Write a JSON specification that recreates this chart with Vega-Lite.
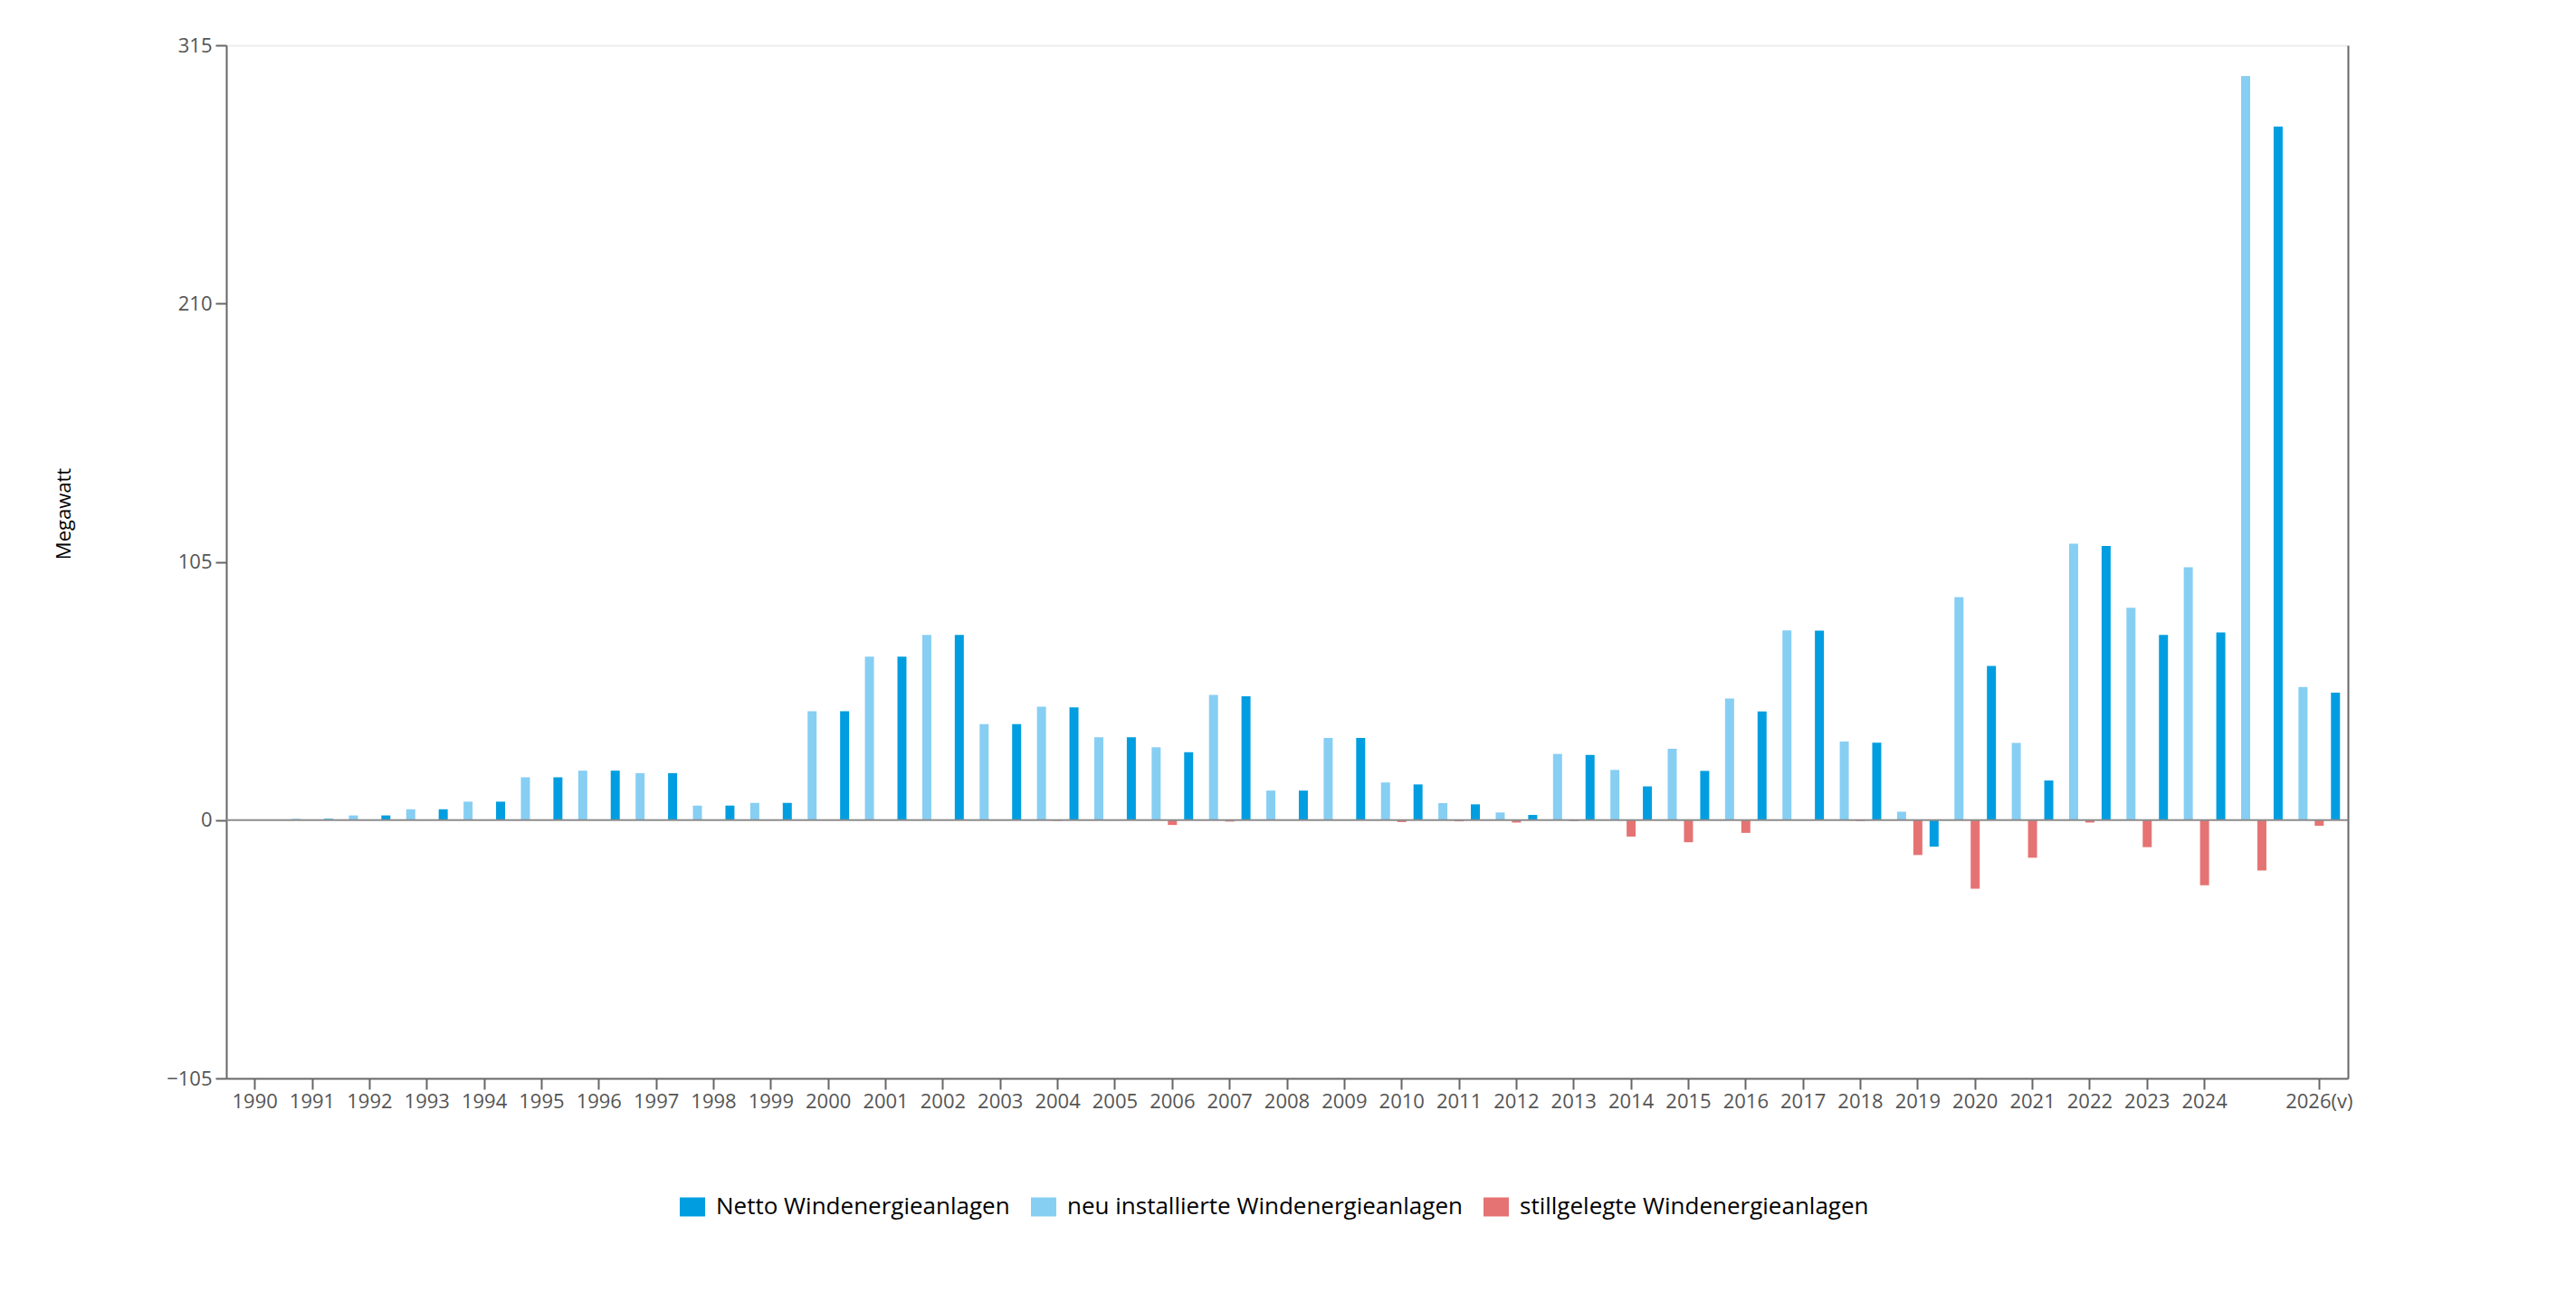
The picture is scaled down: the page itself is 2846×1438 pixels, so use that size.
{
  "$schema": "https://vega.github.io/schema/vega-lite/v6.json",
  "autosize": {"type": "none"},
  "padding": {"left": 250, "top": 50, "right": 252, "bottom": 247},
  "width": 2344,
  "height": 1141,
  "background": "white",
  "config": {
    "view": {"stroke": null},
    "font": "Open Sans"
  },
  "resolve": {"scale": {"y": "independent"}},
  "layer": [
    {
      "data": {"values": [
        {"Jahr": "1990", "Reihe": "neu installierte Windenergieanlagen", "Megawatt": 0.2},
        {"Jahr": "1990", "Reihe": "stillgelegte Windenergieanlagen", "Megawatt": 0},
        {"Jahr": "1990", "Reihe": "Netto Windenergieanlagen", "Megawatt": 0.2},
        {"Jahr": "1991", "Reihe": "neu installierte Windenergieanlagen", "Megawatt": 0.5},
        {"Jahr": "1991", "Reihe": "stillgelegte Windenergieanlagen", "Megawatt": 0},
        {"Jahr": "1991", "Reihe": "Netto Windenergieanlagen", "Megawatt": 0.5},
        {"Jahr": "1992", "Reihe": "neu installierte Windenergieanlagen", "Megawatt": 1.9},
        {"Jahr": "1992", "Reihe": "stillgelegte Windenergieanlagen", "Megawatt": 0},
        {"Jahr": "1992", "Reihe": "Netto Windenergieanlagen", "Megawatt": 1.9},
        {"Jahr": "1993", "Reihe": "neu installierte Windenergieanlagen", "Megawatt": 4.4},
        {"Jahr": "1993", "Reihe": "stillgelegte Windenergieanlagen", "Megawatt": 0},
        {"Jahr": "1993", "Reihe": "Netto Windenergieanlagen", "Megawatt": 4.4},
        {"Jahr": "1994", "Reihe": "neu installierte Windenergieanlagen", "Megawatt": 7.5},
        {"Jahr": "1994", "Reihe": "stillgelegte Windenergieanlagen", "Megawatt": 0},
        {"Jahr": "1994", "Reihe": "Netto Windenergieanlagen", "Megawatt": 7.5},
        {"Jahr": "1995", "Reihe": "neu installierte Windenergieanlagen", "Megawatt": 17.4},
        {"Jahr": "1995", "Reihe": "stillgelegte Windenergieanlagen", "Megawatt": 0},
        {"Jahr": "1995", "Reihe": "Netto Windenergieanlagen", "Megawatt": 17.4},
        {"Jahr": "1996", "Reihe": "neu installierte Windenergieanlagen", "Megawatt": 20.1},
        {"Jahr": "1996", "Reihe": "stillgelegte Windenergieanlagen", "Megawatt": 0},
        {"Jahr": "1996", "Reihe": "Netto Windenergieanlagen", "Megawatt": 20.1},
        {"Jahr": "1997", "Reihe": "neu installierte Windenergieanlagen", "Megawatt": 19.1},
        {"Jahr": "1997", "Reihe": "stillgelegte Windenergieanlagen", "Megawatt": 0},
        {"Jahr": "1997", "Reihe": "Netto Windenergieanlagen", "Megawatt": 19.1},
        {"Jahr": "1998", "Reihe": "neu installierte Windenergieanlagen", "Megawatt": 5.9},
        {"Jahr": "1998", "Reihe": "stillgelegte Windenergieanlagen", "Megawatt": 0},
        {"Jahr": "1998", "Reihe": "Netto Windenergieanlagen", "Megawatt": 5.9},
        {"Jahr": "1999", "Reihe": "neu installierte Windenergieanlagen", "Megawatt": 7.0},
        {"Jahr": "1999", "Reihe": "stillgelegte Windenergieanlagen", "Megawatt": 0},
        {"Jahr": "1999", "Reihe": "Netto Windenergieanlagen", "Megawatt": 7.0},
        {"Jahr": "2000", "Reihe": "neu installierte Windenergieanlagen", "Megawatt": 44.3},
        {"Jahr": "2000", "Reihe": "stillgelegte Windenergieanlagen", "Megawatt": 0},
        {"Jahr": "2000", "Reihe": "Netto Windenergieanlagen", "Megawatt": 44.3},
        {"Jahr": "2001", "Reihe": "neu installierte Windenergieanlagen", "Megawatt": 66.4},
        {"Jahr": "2001", "Reihe": "stillgelegte Windenergieanlagen", "Megawatt": 0},
        {"Jahr": "2001", "Reihe": "Netto Windenergieanlagen", "Megawatt": 66.4},
        {"Jahr": "2002", "Reihe": "neu installierte Windenergieanlagen", "Megawatt": 75.3},
        {"Jahr": "2002", "Reihe": "stillgelegte Windenergieanlagen", "Megawatt": 0},
        {"Jahr": "2002", "Reihe": "Netto Windenergieanlagen", "Megawatt": 75.3},
        {"Jahr": "2003", "Reihe": "neu installierte Windenergieanlagen", "Megawatt": 39.0},
        {"Jahr": "2003", "Reihe": "stillgelegte Windenergieanlagen", "Megawatt": 0},
        {"Jahr": "2003", "Reihe": "Netto Windenergieanlagen", "Megawatt": 39.0},
        {"Jahr": "2004", "Reihe": "neu installierte Windenergieanlagen", "Megawatt": 46.1},
        {"Jahr": "2004", "Reihe": "stillgelegte Windenergieanlagen", "Megawatt": -0.3},
        {"Jahr": "2004", "Reihe": "Netto Windenergieanlagen", "Megawatt": 45.8},
        {"Jahr": "2005", "Reihe": "neu installierte Windenergieanlagen", "Megawatt": 33.7},
        {"Jahr": "2005", "Reihe": "stillgelegte Windenergieanlagen", "Megawatt": 0},
        {"Jahr": "2005", "Reihe": "Netto Windenergieanlagen", "Megawatt": 33.7},
        {"Jahr": "2006", "Reihe": "neu installierte Windenergieanlagen", "Megawatt": 29.6},
        {"Jahr": "2006", "Reihe": "stillgelegte Windenergieanlagen", "Megawatt": -2.0},
        {"Jahr": "2006", "Reihe": "Netto Windenergieanlagen", "Megawatt": 27.6},
        {"Jahr": "2007", "Reihe": "neu installierte Windenergieanlagen", "Megawatt": 50.9},
        {"Jahr": "2007", "Reihe": "stillgelegte Windenergieanlagen", "Megawatt": -0.6},
        {"Jahr": "2007", "Reihe": "Netto Windenergieanlagen", "Megawatt": 50.3},
        {"Jahr": "2008", "Reihe": "neu installierte Windenergieanlagen", "Megawatt": 12.0},
        {"Jahr": "2008", "Reihe": "stillgelegte Windenergieanlagen", "Megawatt": 0},
        {"Jahr": "2008", "Reihe": "Netto Windenergieanlagen", "Megawatt": 12.0},
        {"Jahr": "2009", "Reihe": "neu installierte Windenergieanlagen", "Megawatt": 33.4},
        {"Jahr": "2009", "Reihe": "stillgelegte Windenergieanlagen", "Megawatt": 0},
        {"Jahr": "2009", "Reihe": "Netto Windenergieanlagen", "Megawatt": 33.4},
        {"Jahr": "2010", "Reihe": "neu installierte Windenergieanlagen", "Megawatt": 15.3},
        {"Jahr": "2010", "Reihe": "stillgelegte Windenergieanlagen", "Megawatt": -0.8},
        {"Jahr": "2010", "Reihe": "Netto Windenergieanlagen", "Megawatt": 14.5},
        {"Jahr": "2011", "Reihe": "neu installierte Windenergieanlagen", "Megawatt": 6.9},
        {"Jahr": "2011", "Reihe": "stillgelegte Windenergieanlagen", "Megawatt": -0.5},
        {"Jahr": "2011", "Reihe": "Netto Windenergieanlagen", "Megawatt": 6.4},
        {"Jahr": "2012", "Reihe": "neu installierte Windenergieanlagen", "Megawatt": 3.1},
        {"Jahr": "2012", "Reihe": "stillgelegte Windenergieanlagen", "Megawatt": -1.0},
        {"Jahr": "2012", "Reihe": "Netto Windenergieanlagen", "Megawatt": 2.1},
        {"Jahr": "2013", "Reihe": "neu installierte Windenergieanlagen", "Megawatt": 26.9},
        {"Jahr": "2013", "Reihe": "stillgelegte Windenergieanlagen", "Megawatt": -0.4},
        {"Jahr": "2013", "Reihe": "Netto Windenergieanlagen", "Megawatt": 26.5},
        {"Jahr": "2014", "Reihe": "neu installierte Windenergieanlagen", "Megawatt": 20.4},
        {"Jahr": "2014", "Reihe": "stillgelegte Windenergieanlagen", "Megawatt": -6.7},
        {"Jahr": "2014", "Reihe": "Netto Windenergieanlagen", "Megawatt": 13.7},
        {"Jahr": "2015", "Reihe": "neu installierte Windenergieanlagen", "Megawatt": 29.0},
        {"Jahr": "2015", "Reihe": "stillgelegte Windenergieanlagen", "Megawatt": -9.0},
        {"Jahr": "2015", "Reihe": "Netto Windenergieanlagen", "Megawatt": 20.0},
        {"Jahr": "2016", "Reihe": "neu installierte Windenergieanlagen", "Megawatt": 49.4},
        {"Jahr": "2016", "Reihe": "stillgelegte Windenergieanlagen", "Megawatt": -5.2},
        {"Jahr": "2016", "Reihe": "Netto Windenergieanlagen", "Megawatt": 44.2},
        {"Jahr": "2017", "Reihe": "neu installierte Windenergieanlagen", "Megawatt": 77.1},
        {"Jahr": "2017", "Reihe": "stillgelegte Windenergieanlagen", "Megawatt": -0.1},
        {"Jahr": "2017", "Reihe": "Netto Windenergieanlagen", "Megawatt": 77.0},
        {"Jahr": "2018", "Reihe": "neu installierte Windenergieanlagen", "Megawatt": 31.9},
        {"Jahr": "2018", "Reihe": "stillgelegte Windenergieanlagen", "Megawatt": -0.4},
        {"Jahr": "2018", "Reihe": "Netto Windenergieanlagen", "Megawatt": 31.5},
        {"Jahr": "2019", "Reihe": "neu installierte Windenergieanlagen", "Megawatt": 3.4},
        {"Jahr": "2019", "Reihe": "stillgelegte Windenergieanlagen", "Megawatt": -14.2},
        {"Jahr": "2019", "Reihe": "Netto Windenergieanlagen", "Megawatt": -10.8},
        {"Jahr": "2020", "Reihe": "neu installierte Windenergieanlagen", "Megawatt": 90.6},
        {"Jahr": "2020", "Reihe": "stillgelegte Windenergieanlagen", "Megawatt": -27.9},
        {"Jahr": "2020", "Reihe": "Netto Windenergieanlagen", "Megawatt": 62.7},
        {"Jahr": "2021", "Reihe": "neu installierte Windenergieanlagen", "Megawatt": 31.4},
        {"Jahr": "2021", "Reihe": "stillgelegte Windenergieanlagen", "Megawatt": -15.3},
        {"Jahr": "2021", "Reihe": "Netto Windenergieanlagen", "Megawatt": 16.1},
        {"Jahr": "2022", "Reihe": "neu installierte Windenergieanlagen", "Megawatt": 112.4},
        {"Jahr": "2022", "Reihe": "stillgelegte Windenergieanlagen", "Megawatt": -1.0},
        {"Jahr": "2022", "Reihe": "Netto Windenergieanlagen", "Megawatt": 111.4},
        {"Jahr": "2023", "Reihe": "neu installierte Windenergieanlagen", "Megawatt": 86.3},
        {"Jahr": "2023", "Reihe": "stillgelegte Windenergieanlagen", "Megawatt": -11.0},
        {"Jahr": "2023", "Reihe": "Netto Windenergieanlagen", "Megawatt": 75.3},
        {"Jahr": "2024", "Reihe": "neu installierte Windenergieanlagen", "Megawatt": 102.8},
        {"Jahr": "2024", "Reihe": "stillgelegte Windenergieanlagen", "Megawatt": -26.5},
        {"Jahr": "2024", "Reihe": "Netto Windenergieanlagen", "Megawatt": 76.3},
        {"Jahr": "2025", "Reihe": "neu installierte Windenergieanlagen", "Megawatt": 302.5},
        {"Jahr": "2025", "Reihe": "stillgelegte Windenergieanlagen", "Megawatt": -20.5},
        {"Jahr": "2025", "Reihe": "Netto Windenergieanlagen", "Megawatt": 282.0},
        {"Jahr": "2026(v)", "Reihe": "neu installierte Windenergieanlagen", "Megawatt": 54.1},
        {"Jahr": "2026(v)", "Reihe": "stillgelegte Windenergieanlagen", "Megawatt": -2.3},
        {"Jahr": "2026(v)", "Reihe": "Netto Windenergieanlagen", "Megawatt": 51.8}
      ]},
      "mark": {"type": "bar"},
      "encoding": {
        "x": {
          "field": "Jahr",
          "type": "nominal",
          "sort": null,
          "scale": {"paddingInner": 0.15, "paddingOuter": 0.075},
          "axis": {
            "title": null,
            "labelAngle": 0,
            "values": ["1990", "1991", "1992", "1993", "1994", "1995", "1996", "1997", "1998", "1999", "2000", "2001", "2002", "2003", "2004", "2005", "2006", "2007", "2008", "2009", "2010", "2011", "2012", "2013", "2014", "2015", "2016", "2017", "2018", "2019", "2020", "2021", "2022", "2023", "2024", "2026(v)"],
            "labelOverlap": false,
            "tickSize": 12,
            "tickWidth": 2,
            "tickColor": "#666666",
            "domainColor": "#666666",
            "domainWidth": 2,
            "labelFont": "Open Sans",
            "labelFontSize": 22,
            "labelColor": "#555555",
            "labelPadding": 3
          }
        },
        "xOffset": {
          "field": "Reihe",
          "type": "nominal",
          "sort": ["neu installierte Windenergieanlagen", "stillgelegte Windenergieanlagen", "Netto Windenergieanlagen"],
          "scale": {"paddingInner": 0.444, "paddingOuter": 0.222}
        },
        "y": {
          "field": "Megawatt",
          "type": "quantitative",
          "scale": {"domain": [-105, 315], "nice": false},
          "axis": {
            "values": [-105, 0, 105, 210, 315],
            "tickSize": 12,
            "tickWidth": 2,
            "tickColor": "#666666",
            "domainColor": "#666666",
            "domainWidth": 2,
            "labelFont": "Open Sans",
            "labelFontSize": 22,
            "labelColor": "#555555",
            "labelPadding": 4,
            "grid": true,
            "gridColor": "#eeeeee",
            "gridWidth": 2,
            "gridOpacity": {"condition": {"test": "datum.value == 315", "value": 1}, "value": 0},
            "title": "Megawatt",
            "titleFont": "Open Sans",
            "titleFontSize": 22,
            "titleFontWeight": "normal",
            "titleColor": "#000000",
            "titleAngle": -90,
            "titleAlign": "center",
            "titleBaseline": "middle",
            "titleX": -180,
            "titleY": 517
          }
        },
        "color": {
          "field": "Reihe",
          "type": "nominal",
          "scale": {
            "domain": ["Netto Windenergieanlagen", "neu installierte Windenergieanlagen", "stillgelegte Windenergieanlagen"],
            "range": ["#009ee0", "#87cef3", "#e57373"]
          },
          "legend": {
            "title": null,
            "orient": "none",
            "legendX": 502,
            "legendY": 1270,
            "direction": "horizontal",
            "symbolType": "M-1.333,-1H1.333V1H-1.333Z",
            "symbolSize": 441,
            "symbolStrokeWidth": 0,
            "symbolOpacity": 1,
            "labelFont": "Open Sans",
            "labelFontSize": 26,
            "labelColor": "#000000",
            "labelOffset": 13,
            "labelLimit": 1000,
            "columnPadding": 23
          }
        }
      }
    },
    {
      "data": {"values": [{"Wert": 0}]},
      "mark": {"type": "rule", "color": "#8c8c8c", "strokeWidth": 2},
      "encoding": {
        "y": {
          "field": "Wert",
          "type": "quantitative",
          "scale": {"domain": [-105, 315], "nice": false},
          "axis": {
            "orient": "right",
            "labels": false,
            "ticks": false,
            "grid": false,
            "title": null,
            "domainColor": "#666666",
            "domainWidth": 2
          }
        }
      }
    }
  ]
}
